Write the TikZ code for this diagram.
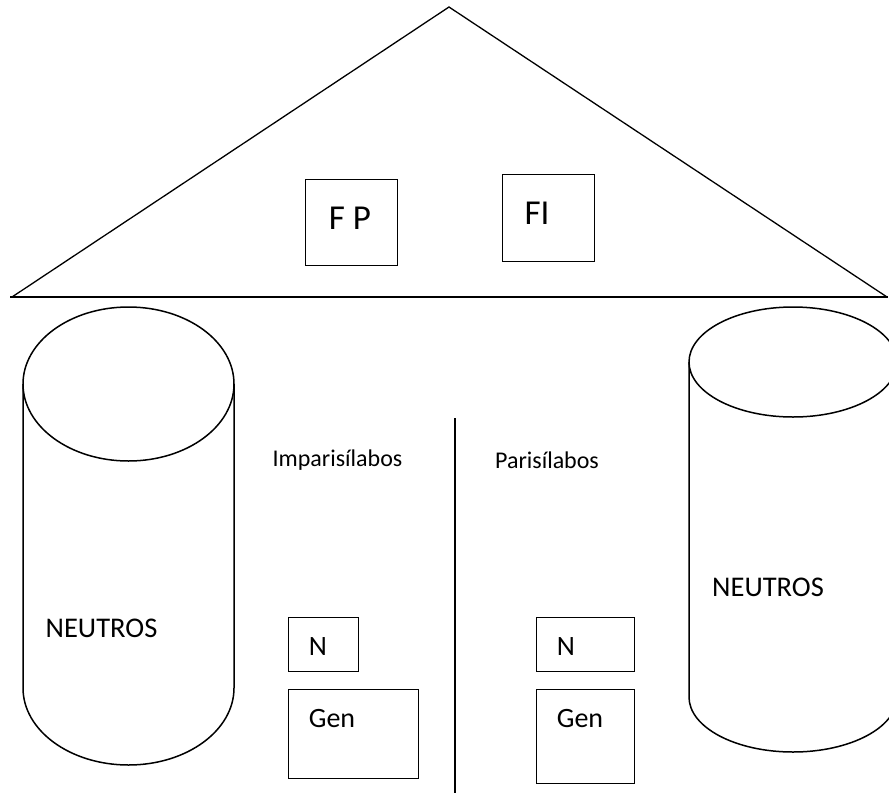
\documentclass[tikz,border=0pt]{standalone}
\usepackage{fontspec}
\setmainfont{Carlito}
\begin{document}
\begin{tikzpicture}[x=1pt,y=-1pt,
  thin line/.style={line width=1.3pt, black},
  box/.style={draw, line width=1.3pt, minimum width=#1, inner sep=0pt, anchor=north west},
  lbl/.style={inner sep=0pt, anchor=center, text=black}]
\useasboundingbox (0,0) rectangle (889,793);
\clip (0,0) rectangle (889,793);
% roof
\coordinate (apex) at (449,7);
\coordinate (bl) at (12,297);
\coordinate (br) at (887,297);
\coordinate (basel) at (10,297);
\coordinate (baser) at (888,297);
\draw[thin line] (bl) -- (apex) -- (br);
\draw[line width=2.2pt] (basel) -- (baser);
% roof boxes
\node[box=92pt, minimum height=86pt] (fpbox) at (305,179) {};
\node[box=92pt, minimum height=87pt] (fibox) at (502,174) {};
\node[lbl, font=\fontsize{35}{40}\selectfont] (fp) at (350,218) {F P};
\node[lbl, font=\fontsize{35}{40}\selectfont] (fi) at (537,213) {FI};
% left cylinder
\draw[line width=1.5pt] (128.5,384) ellipse [x radius=105.5pt, y radius=77pt];
\draw[line width=1.5pt] (23,384) -- (23,688)
   arc[start angle=180, end angle=360, x radius=105.5pt, y radius=77pt]
   -- (234,384);
\node[lbl, font=\fontsize{28.5}{34}\selectfont] (neutl) at (101.5,628) {NEUTROS};
% right cylinder
\draw[line width=1.5pt] (793,362) ellipse [x radius=104pt, y radius=55pt];
\draw[line width=1.5pt] (689,362) -- (689,697)
   arc[start angle=180, end angle=360, x radius=104pt, y radius=55pt]
   -- (897,362);
\node[lbl, font=\fontsize{28.5}{34}\selectfont] (neutr) at (768,587) {NEUTROS};
% divider
\coordinate (dtop) at (455,418);
\coordinate (dbot) at (455,793);
\draw[line width=1.5pt] (dtop) -- (dbot);
% headings
\node[lbl, font=\fontsize{24}{28}\selectfont] (impar) at (337.5,460) {Imparisílabos};
\node[lbl, font=\fontsize{24}{28}\selectfont] (par) at (547,460) {Parisílabos};
% left boxes
\node[box=70pt, minimum height=54pt] (nl) at (288,617) {};
\node[box=130pt, minimum height=89pt] (gl) at (288,689) {};
\node[lbl, font=\fontsize{28}{32}\selectfont] (nlt) at (318,647) {N};
\node[lbl, font=\fontsize{28}{32}\selectfont] (glt) at (332,718) {Gen};
% right boxes
\node[box=98pt, minimum height=54pt] (nr) at (536,617) {};
\node[box=98pt, minimum height=94pt] (gr) at (536,689) {};
\node[lbl, font=\fontsize{28}{32}\selectfont] (nrt) at (566,647) {N};
\node[lbl, font=\fontsize{28}{32}\selectfont] (grt) at (580,718) {Gen};
\end{tikzpicture}
\end{document}
